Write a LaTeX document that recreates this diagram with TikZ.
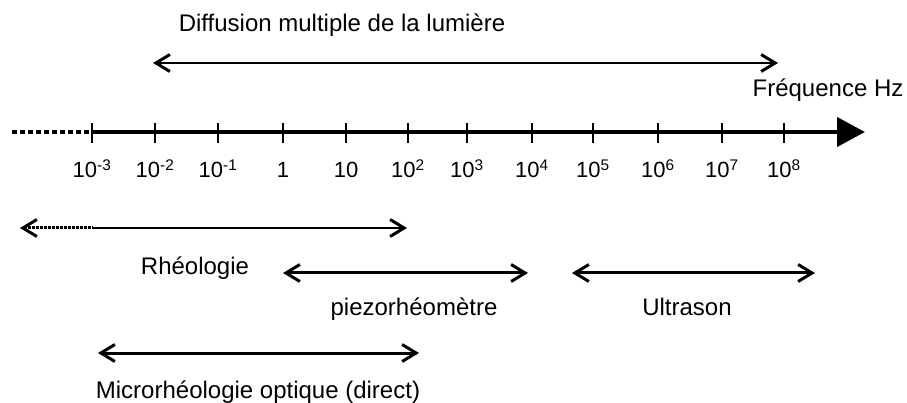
\documentclass[tikz,border=0pt]{standalone}
\usepackage{fontspec}
\setmainfont{Liberation Sans}
\usetikzlibrary{arrows.meta}
\tikzset{
  invisible/.style={inner sep=0pt},
  level_1/.style={inner sep=0pt, anchor=base, font=\fontsize{24}{28}\selectfont},
  level_2/.style={inner sep=0pt, anchor=base, font=\fontsize{22}{26}\selectfont},
  axisline/.style={line width=4pt, -{Triangle[length=28pt, width=29pt]}},
  axisdots/.style={line width=4pt, dash pattern=on 5pt off 3pt},
  tickline/.style={line width=1.5pt},
  barb/.tip={Straight Barb[length=14pt, width=17pt, line width=3pt]}}

\begin{document}
\begin{tikzpicture}[x=1pt, y=-1pt]
\useasboundingbox (0,0) rectangle (907,403);

\tikzset{
toarr/.style={{barb}-{barb}, line width=1.7pt},
toarr1/.style={{barb}-{barb}, line width=3pt},
dotpart/.style={line width=3pt, dash pattern=on 2.5pt off 1.5pt}
}

%AXE
\coordinate (axe_debut) at (12,132);
\coordinate (axe0) at (92,132);
\coordinate (axe_fin) at (865,132);

\draw[axisdots] (axe_debut) -- (axe0);
\draw[axisline] (axe0) -- (axe_fin);

\foreach \x/\lab [count=\i] in {92/10\textsuperscript{-3}, 155/10\textsuperscript{-2},
  218/10\textsuperscript{-1}, 283/1, 346/10, 408/10\textsuperscript{2},
  467/10\textsuperscript{3}, 532/10\textsuperscript{4}, 593/10\textsuperscript{5},
  658/10\textsuperscript{6}, 722/10\textsuperscript{7}, 784/10\textsuperscript{8}}{
  \coordinate (T\i) at (\x,132);
  \draw[tickline] ([yshift=9pt]T\i) -- ([yshift=-11pt]T\i);
  \node[level_2] (L\i) at (\x,178) {\lab};
}

\node[level_1] (freq) at (828,97) {Fréquence Hz};

%DIFFUSION
\node[level_1] (diffusion) at (342,32) {Diffusion multiple de la lumière};

\coordinate (D1) at (153,63);
\coordinate (D2) at (778,63);
\draw[toarr] (D1) -- (D2);

%RHEOLOGIE
\coordinate (R1) at (20,228);
\coordinate (R2) at (93,228);
\coordinate (R3) at (407,228);
\draw[toarr, dotpart, {barb}-] (R1) -- (R2);
\draw[toarr, -{barb}] (R2) -- (R3);

\node[level_1] (rheo) at (195,275) {Rhéologie};

%PIEZO
\coordinate (P1) at (283,273);
\coordinate (P2) at (528,273);
\draw[toarr1] (P1) -- (P2);

\node[level_1] (piezo) at (414,315) {piezorhéomètre};

%ULTRASON
\coordinate (U1) at (572,273);
\coordinate (U2) at (815,273);
\draw[toarr1] (U1) -- (U2);

\node[level_1] (ultrason) at (687,315) {Ultrason};

%MICRO
\coordinate (M1) at (98,353);
\coordinate (M2) at (419,353);
\draw[toarr1] (M1) -- (M2);

\node[level_1] (micro) at (258,398) {Microrhéologie optique (direct)};
\end{tikzpicture}
\end{document}
